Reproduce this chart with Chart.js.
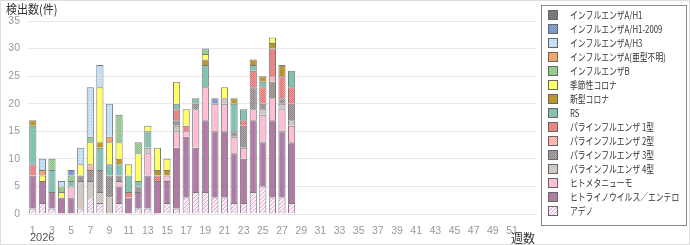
<!DOCTYPE html>
<html><head><meta charset="utf-8">
<script src="https://cdn.jsdelivr.net/npm/chart.js@4/dist/chart.umd.min.js"></script>
<style>html,body{margin:0;padding:0;background:#fff;}#wrap{width:690px;height:245px;}</style>
</head><body><div id="wrap"><canvas id="c" width="690" height="245"></canvas></div>
<script>
const weeks = Array.from({length:53},(_,i)=>String(i+1));
const tickLabels = weeks.map((w,i)=> (i%2===0 && i<51) ? w : '');
const seriesNames = ["アデノ","ヒトライノウイルス／エンテロ","ヒトメタニューモ","パラインフルエンザ 4型","パラインフルエンザ 3型","パラインフルエンザ 2型","パラインフルエンザ 1型","RS","新型コロナ","季節性コロナ","インフルエンザB","インフルエンザA(亜型不明)","インフルエンザA/H3","インフルエンザA/H1-2009","インフルエンザA/H1"];
const adeno   = [1,2,1,0,0,1,3,2,0,2,0,1,1,0,2,1,3,4,4,3,3,2,2,4,5,3,3,2];
const rhino   = [6,4,3,3,3,0,0,0,0,3,3,3,6,6,4,11,11,8,13,12,12,9,8,13,8,14,12,11];
const hmpv    = [0,0,0,0,2,0,0,0,0,1,0,0,4,0,1,3,1,7,6,5,5,3,2,2,5,4,4,3];
const para4   = [0,0,0,0,0,5,3,2,3,0,0,0,1,0,0,1,0,0,0,0,1,0,0,0,1,0,1,1];
const para3   = [0,0,0,0,0,1,2,4,4,1,0,1,0,0,0,1,0,1,0,0,0,1,4,4,1,3,1,3];
const para2   = [0,0,0,0,0,0,1,0,0,0,0,0,0,0,0,0,0,0,0,0,0,0,0,0,0,1,0,0];
const para1   = [2,0,0,0,0,0,0,0,0,0,1,0,0,1,0,2,1,0,0,0,0,0,1,3,3,5,4,3];
const rs      = [7,0,4,0,1,0,0,4,2,2,3,1,3,0,0,1,0,1,4,0,0,5,2,1,1,0,0,3];
const covid   = [1,0,0,0,0,0,0,1,0,1,0,0,0,1,1,0,0,0,1,0,0,1,0,1,1,1,2,0];
const seasCov = [0,1,0,1,0,2,4,10,4,3,2,5,1,4,2,4,3,0,1,0,2,0,0,0,0,1,0,0];
const fluB    = [0,0,2,1,1,0,1,0,0,5,0,2,0,0,0,0,0,0,1,0,0,0,0,0,0,0,0,0];
const fluAu   = [0,1,0,0,0,0,0,0,1,0,0,0,0,0,0,0,0,0,0,0,0,0,0,0,0,0,0,0];
const fluH3   = [0,2,0,1,0,3,9,4,6,0,0,0,0,0,0,0,0,0,0,0,0,0,0,0,0,0,0,0];
const fluH1pdm= [0,0,0,0,1,0,0,0,0,0,0,0,0,0,0,0,0,0,0,1,0,0,0,0,0,0,0,0];
const fluH1   = [0,0,0,0,0,0,0,0,0,0,0,0,0,0,0,0,0,0,0,0,0,0,0,0,0,0,0,0];
const seriesValues = [adeno,rhino,hmpv,para4,para3,para2,para1,rs,covid,seasCov,fluB,fluAu,fluH3,fluH1pdm,fluH1];

function pat(base, accent, type){
  const c=document.createElement('canvas');
  const n = type==='hatch'?4:(type==='dots'?3:2);
  c.width=c.height=n;
  const x=c.getContext('2d');
  x.fillStyle=base; x.fillRect(0,0,n,n);
  if(!accent) return base;
  x.fillStyle=accent;
  if(type==='check'){x.fillRect(0,0,1,1);x.fillRect(1,1,1,1);}
  else if(type==='dots'){x.fillRect(1,1,1,1);}
  else if(type==='hatch'){for(let i=0;i<4;i++)x.fillRect(3-i,i,1,1);}
  return x.createPattern(c,'repeat');
}
const fills = [
  pat('#fbeef8','#e2a8d8','hatch'),
  pat('#b07ca6'),
  pat('#ffbdd6'),
  pat('#dcd5cf','#c6bdb6','check'),
  pat('#b0a8a8','#8e8686','check'),
  pat('#ffc6bd','#f4a8a0','check'),
  pat('#f59a98','#e56e6e','check'),
  pat('#82c2b2'),
  pat('#b8962c'),
  pat('#ffff66'),
  pat('#aad8a2','#86be80','check'),
  pat('#f9b476','#ee9652','check'),
  pat('#c8e2f8','#a6cdee','dots'),
  pat('#8eaad8','#6c8cc2','check'),
  pat('#8a8a8a','#666666','check')
];

const FONT = 'Liberation Sans, "Noto Sans CJK JP", sans-serif';
const JP = '"Noto Sans CJK JP", sans-serif';

const datasets = seriesNames.map((name,i)=>({
  label:name,
  data: seriesValues[i].map(v=> v ? v : null),
  backgroundColor: fills[i],
  borderColor:'#7a7a7a',
  borderWidth:{top:1,left:1,right:1,bottom:0},
  borderSkipped:false,
  barPercentage:0.75,
  categoryPercentage:1
}));

const extras = {
  id:'extras',
  afterDraw(chart){
    const ctx=chart.ctx;
    ctx.save();
    ctx.strokeStyle='#dddddd'; ctx.lineWidth=1;
    ctx.strokeRect(0.5,0.5,689,244);
    ctx.fillStyle='#333';
    ctx.textBaseline='middle'; ctx.textAlign='left';
    ctx.save(); ctx.translate(6,9); ctx.scale(0.88,1);
    ctx.font='12.5px '+JP; ctx.fillText('検出数(件)',0,0); ctx.restore();
    ctx.font='11px '+FONT; ctx.fillStyle='#555';
    ctx.fillText('2026',30,238);
    ctx.font='12px '+JP; ctx.fillStyle='#333';
    ctx.fillText('週数',511,238);
    // legend
    ctx.strokeStyle='#8a8a8a';
    ctx.strokeRect(541.5,5.5,145,220);
    ctx.font='10px '+JP;
    const n=chart.data.datasets.length;
    for(let k=0;k<n;k++){
      const ds=chart.data.datasets[n-1-k];
      const cy=15+k*14;
      ctx.fillStyle=ds.backgroundColor;
      ctx.fillRect(548,cy-5,10,10);
      ctx.strokeStyle='#666';
      ctx.strokeRect(548.5,cy-4.5,9,9);
      ctx.fillStyle='#333';
      ctx.save(); ctx.translate(570,cy+0.5); ctx.scale(0.78,1);
      ctx.fillText(ds.label,0,0); ctx.restore();
    }
    ctx.restore();
  }
};

new Chart(document.getElementById('c'),{
  type:'bar',
  data:{labels:weeks,datasets},
  options:{
    responsive:false,animation:false,
    layout:{padding:{top:21,right:154,bottom:0,left:0}},
    plugins:{legend:{display:false},title:{display:false},tooltip:{enabled:false}},
    scales:{
      x:{stacked:true,
         grid:{display:false},
         border:{display:true,color:'#e4e4e4'},
         ticks:{autoSkip:false,maxRotation:0,minRotation:0,color:'#999',font:{size:10.5,family:FONT},padding:3,
           callback:(v,i)=>tickLabels[i]},
         afterFit(s){s.height=31;}
      },
      y:{stacked:true,min:0,max:35,
         grid:{color:'#e8e8e8',drawTicks:false},
         border:{display:false},
         ticks:{stepSize:5,color:'#999',font:{size:10.5,family:FONT},padding:8},
         afterFit(s){s.width=28;}
      }
    }
  },
  plugins:[extras]
});
</script></body></html>
